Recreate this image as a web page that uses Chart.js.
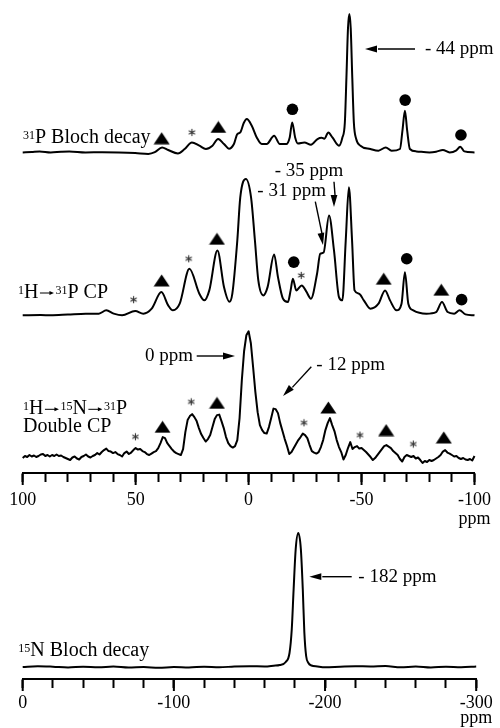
<!DOCTYPE html>
<html>
<head>
<meta charset="utf-8">
<script src="https://cdn.jsdelivr.net/npm/chart.js@4.4.1/dist/chart.umd.min.js"></script>
<style>
  html, body { margin: 0; padding: 0; background: #fff; }
  #wrap { position: relative; width: 500px; height: 728px; overflow: hidden; }
  #grafTop { position: absolute; left: 0; top: 0; }
  #grafBottom { position: absolute; left: 0; top: 528px; }
</style>
</head>
<body>
<div id="wrap">
  <canvas id="grafTop" width="500" height="528"></canvas>
  <canvas id="grafBottom" width="500" height="200"></canvas>
</div>
<script>
// ---- 31P Bloch decay (ppm / intensity, a.u.) ----
const blochPpm = [100, 96, 92.5, 87.6, 83, 79.4, 72.2, 64.8, 57.5, 50.2,
  44.4, 41.5, 38.3, 35.6, 31.3, 28.3, 25.1, 21.8, 18.9, 16,
  13.5, 10.9, 8.7, 6.5, 5, 3.7, 2.1, 0.8, -1.4, -3.6,
  -5.8, -8, -11.3, -13.8, -16.7, -18.2, -19.3, -20.6, -21.8, -24.7,
  -27.6, -30.5, -32.3, -33.5, -35.3, -37.1, -40, -41.5, -42.6, -43.3,
  -44, -44.6, -45.2, -45.9, -46.6, -47.6, -49.5, -53.9, -57.5, -60.7,
  -63.3, -67, -68.1, -69.2, -70.2, -71.4, -74.3, -80.1, -83, -86,
  -89, -91.8, -93.7, -95.5, -100];
const blochInt = [0.3, 0.8, 1.3, 0.3, 1, 1.3, 0.3, 0.5, 0.3, -0.3,
  -1.2, 0.5, 5.3, 2.7, -0.7, 3.7, 10.3, 7, 3.7, 7,
  13.7, 8.7, 4, 8.7, 18.7, 20.3, 30, 33.7, 27, 15.3,
  8.7, 8.7, 17, 8.7, 8.7, 15.3, 30.3, 15.3, 9.3, 10.3,
  8, 13.7, 15, 14, 20.3, 15.3, 7, 15, 30, 75,
  125, 139, 125, 75, 30, 14, 7, 3.7, 2, 5.3,
  2, 3.7, 22, 42, 22, 3.7, 1.3, 0.3, 1, 2.7,
  0.3, 2, 6, 1.3, 0.3];

// ---- 1H -> 31P CP ----
const cpPpm = [100, 92, 87.6, 80, 72.1, 66.3, 63, 59.7, 56, 50.2,
  46.6, 42.9, 38.6, 35.6, 33.5, 30.5, 26.2, 21.8, 19.6, 17.4,
  13.8, 10.9, 8.5, 7.2, 5, 3.7, 1.2, -1.1, -2.8, -4.3,
  -6.5, -8.4, -11.3, -13, -15.2, -17.4, -18.6, -19.6, -21.1, -23.5,
  -25.5, -27.6, -30.3, -31.7, -33.2, -35.6, -37.8, -40, -41.5, -43,
  -44.4, -45.8, -46.9, -48.9, -51, -53.9, -57.5, -60.4, -62.6, -65.5,
  -67.7, -69.2, -70.7, -72.9, -78.7, -83, -85.6, -88.1, -91, -93.4,
  -96, -100];
const cpInt = [0, 0.3, 0, 0.8, 1.7, 1.7, 5, 1.7, 0, 4.3,
  1.7, 6.7, 23.3, 10, 5, 11.7, 46.7, 21.7, 15, 25,
  65, 28.3, 13.5, 21.7, 75, 118, 136.7, 118, 75, 35,
  20, 28.3, 61, 38.3, 16.7, 13.3, 25, 36.7, 25, 30,
  24, 16.7, 41.7, 61.7, 63, 100, 65, 18.3, 15, 75,
  128.3, 75, 25, 21.7, 15, 6.7, 11.7, 25, 15, 5,
  11.7, 43.3, 11.7, 5, 1.7, 3.3, 13.3, 3.3, 1.7, 5,
  1, 0];

// ---- 1H -> 15N -> 31P double CP, sampled every 1 ppm from 100 to -100 ----
const dcpStart = 100;
const dcpStep = -1;
const dcpInt = [
  0, 2, 1, 3, 1.5, 2.5, 1, 2, 3.5, 4,
  2, 3, 1.5, 3, 2, 3.5, 2, 2.5, 1, 0,
  -1, -2, 0.5, 1.5, -0.5, -1.5, 1, 2, 3.5, 1.5,
  0.5, 2, 3, 5, 3.5, 6, 8, 9.5, 7, 6.5,
  5, 6, 4, 3, 1.5, 5, 6.5, 4, 5.5, 8,
  10, 8.5, 9, 7, 6, 4, 3, 4.5, 6, 7,
  10, 15, 21, 20, 15, 12, 9, 6.5, 5, 4,
  3, 9, 26, 38, 42, 44, 41, 37, 30, 24,
  20, 16.5, 19, 23, 31, 39, 43, 43.5, 37, 30,
  21, 15, 12, 10.5, 12, 18, 40, 78, 107, 123,
  127, 115, 91, 66, 46, 33, 28, 25, 24.5, 31,
  40, 49.5, 49, 45, 35, 27, 19, 12, 4, 6,
  10, 14, 18, 21, 24.5, 23, 20, 13, 7, 5.5,
  4.5, 6, 11, 18, 28, 35, 40, 33, 27, 18,
  11, 6, -1.5, 3, 10, 16, 9, 11, 12, 9.5,
  10, 8, 6, 3.5, 1, -2, 0, 3, 6, 9,
  12, 13, 11.5, 10, 7, 5, 3, -1, -3.5, 1,
  3, 2, 1, 2, -0.5, 0.5, -2, -5, -3, -4,
  -2, -3, -2, -0.5, 1, 3, 6.5, 8, 5.5, 4.5,
  3, 1.5, 2, 0, -1, 0, -1.5, -2, -1, -2.5,
  2];

// ---- 15N Bloch decay ----
const nPpm = [0, -10, -20, -30, -40, -50, -60, -70, -80, -90, -100, -110, -120, -130, -140, -150, -160,
  -166, -170, -174, -176.5, -178, -179.2, -180.6, -182.3, -184, -185.3, -186.3, -187.5, -189, -191, -195,
  -200, -210, -220, -230, -240, -250, -260, -270, -280, -290, -300];
const nInt = [0, 0.8, 0.3, -0.5, 0.3, -0.3, 0.5, -0.5, 0, -0.8, 0, -0.5, 0.3, -0.3, 0.5, 0.8, 0.5,
  1.3, 2, 5, 14, 38, 77, 118, 134, 118, 77, 35, 11, 4, 1.5, 0.5,
  -0.3, 0.3, 0.8, 0.5, 1, -0.3, 0.5, -0.5, 0.3, -0.3, 0.5];

// ---- peak markers (triangle / asterisk / dot) ----
const blochTriPpm = [38.5, 13.4], blochTriInt = [14.5, 25.8];
const blochStarPpm = [25.1], blochStarInt = [20.3];
const blochDotPpm = [-19.4, -69.3, -94.0], blochDotInt = [43.5, 52.7, 17.7];
const cpTriPpm = [38.5, 14.0, -59.8, -85.3], cpTriInt = [35, 76.7, 36.7, 25.7];
const cpStarPpm = [50.9, 26.5, -23.3], cpStarInt = [15.7, 56.7, 40];
const cpDotPpm = [-20.0, -70.0, -94.3], cpDotInt = [53.3, 56.7, 15.7];
const dcpTriPpm = [38.1, 14.0, -35.3, -60.9, -86.4], dcpTriInt = [31.3, 55.3, 50.7, 28, 20.7];
const dcpStarPpm = [50.1, 25.4, -24.5, -49.3, -72.9], dcpStarInt = [21.3, 56.3, 35.3, 23, 14];

// axis ticks
const topMajor = [100, 50, 0, -50, -100];
const bottomMajor = [0, -100, -200, -300];

const FONT = '"Liberation Serif", "Times New Roman", serif';

function pts(xs, ys) { return xs.map((x, i) => ({ x: x, y: ys[i] })); }

// small images used as point styles
const triImg = document.createElement('canvas');
triImg.width = 17; triImg.height = 13;
(function () {
  const g = triImg.getContext('2d');
  g.fillStyle = '#000';
  g.beginPath(); g.moveTo(8.5, 0.5); g.lineTo(16.5, 12.5); g.lineTo(0.5, 12.5); g.closePath(); g.fill();
})();
const starImg = document.createElement('canvas');
starImg.width = 9; starImg.height = 9;
(function () {
  const g = starImg.getContext('2d');
  g.strokeStyle = '#333'; g.lineWidth = 1.1;
  for (let k = 0; k < 3; k++) {
    const a = Math.PI / 2 + k * Math.PI / 3;
    g.beginPath();
    g.moveTo(4.5 + 3.6 * Math.cos(a), 4.5 + 3.6 * Math.sin(a));
    g.lineTo(4.5 - 3.6 * Math.cos(a), 4.5 - 3.6 * Math.sin(a));
    g.stroke();
  }
})();

function spectrum(xs, ys, axis, smooth) {
  return {
    type: 'line', data: pts(xs, ys), yAxisID: axis,
    borderColor: '#000', borderWidth: 2, borderJoinStyle: 'round',
    pointRadius: 0, clip: false,
    cubicInterpolationMode: smooth ? 'monotone' : 'default', tension: 0
  };
}
function marks(xs, ys, axis, kind) {
  const d = { type: 'scatter', data: pts(xs, ys), yAxisID: axis, showLine: false, clip: false,
    pointBorderWidth: 0, pointBackgroundColor: '#000', pointRadius: 6 };
  if (kind === 'tri') d.pointStyle = triImg;
  else if (kind === 'star') d.pointStyle = starImg;
  else { d.pointStyle = 'circle'; d.pointRadius = 5.8; }
  return d;
}

// draws text with superscripts and small inline arrows
function drawRich(ctx, x, y, parts, size) {
  parts.forEach(p => {
    if (p.arrow) {
      const ay = y - 5, x1 = x + 1.5, x2 = x + p.arrow - 1.5;
      ctx.lineWidth = 1;
      ctx.beginPath(); ctx.moveTo(x1, ay); ctx.lineTo(x2 - 3, ay); ctx.stroke();
      ctx.beginPath(); ctx.moveTo(x2, ay); ctx.lineTo(x2 - 4.5, ay - 2); ctx.lineTo(x2 - 4.5, ay + 2); ctx.closePath(); ctx.fill();
      x += p.arrow;
      return;
    }
    ctx.font = (p.sup ? '12px ' : size + 'px ') + FONT;
    ctx.fillText(p.t, x, p.sup ? y - 4 : y);
    x += ctx.measureText(p.t).width;
  });
}
function drawArrow(ctx, x1, y1, x2, y2) {
  const a = Math.atan2(y2 - y1, x2 - x1), L = 12, W = 3.4;
  const bx = x2 - L * Math.cos(a), by = y2 - L * Math.sin(a);
  ctx.lineWidth = 1.4;
  ctx.beginPath(); ctx.moveTo(x1, y1); ctx.lineTo(bx + 1, by); ctx.stroke();
  ctx.beginPath(); ctx.moveTo(x2, y2);
  ctx.lineTo(bx + W * Math.sin(a), by - W * Math.cos(a));
  ctx.lineTo(bx - W * Math.sin(a), by + W * Math.cos(a));
  ctx.closePath(); ctx.fill();
}

const notesPlugin = {
  id: 'notes',
  afterDraw(chart, args, opts) {
    const ctx = chart.ctx;
    ctx.save();
    ctx.fillStyle = '#000'; ctx.strokeStyle = '#000';
    ctx.textBaseline = 'alphabetic'; ctx.textAlign = 'left';
    (opts.texts || []).forEach(t => drawRich(ctx, t.x, t.y, t.parts, t.size || 19));
    (opts.arrows || []).forEach(a => drawArrow(ctx, a[0], a[1], a[2], a[3]));
    ctx.restore();
  }
};
const majorTicksPlugin = {
  id: 'majorTicks',
  afterDraw(chart, args, opts) {
    const sc = chart.scales.x, ctx = chart.ctx, y0 = chart.chartArea.bottom;
    ctx.save();
    ctx.strokeStyle = '#000'; ctx.lineWidth = 2;
    opts.values.forEach(v => {
      const x = sc.getPixelForValue(v);
      ctx.beginPath(); ctx.moveTo(x, y0); ctx.lineTo(x, y0 + 12); ctx.stroke();
    });
    ctx.restore();
  }
};

function xAxis(min, max, step, major, last, h, pad, lh) {
  return {
    type: 'linear', reverse: true, min: min, max: max,
    afterFit: s => { s.height = h; },
    border: { display: true, color: '#000', width: 2 },
    grid: { display: true, drawOnChartArea: false, drawTicks: true, tickLength: 9, tickWidth: 2, tickColor: '#000' },
    ticks: {
      stepSize: step, autoSkip: false, maxRotation: 0, padding: pad, color: '#000',
      font: { family: FONT, size: 18, lineHeight: lh },
      callback: v => v % major === 0 ? (v === last ? [String(v), 'ppm'] : String(v)) : ''
    }
  };
}

window.addEventListener('load', () => {

  new Chart(document.querySelector('#grafTop').getContext('2d'), {
    type: 'line',
    data: {
      datasets: [
        spectrum(blochPpm, blochInt, 'yB', true),
        spectrum(cpPpm, cpInt, 'yC', true),
        spectrum(dcpInt.map((v, i) => dcpStart + i * dcpStep), dcpInt, 'yD', false),
        marks(blochTriPpm, blochTriInt, 'yB', 'tri'),
        marks(blochStarPpm, blochStarInt, 'yB', 'star'),
        marks(blochDotPpm, blochDotInt, 'yB', 'dot'),
        marks(cpTriPpm, cpTriInt, 'yC', 'tri'),
        marks(cpStarPpm, cpStarInt, 'yC', 'star'),
        marks(cpDotPpm, cpDotInt, 'yC', 'dot'),
        marks(dcpTriPpm, dcpTriInt, 'yD', 'tri'),
        marks(dcpStarPpm, dcpStarInt, 'yD', 'star')
      ]
    },
    options: {
      responsive: false, animation: false, events: [],
      layout: { padding: { left: 22.7, right: 20, top: 5, bottom: 0 } },
      plugins: {
        legend: { display: false }, tooltip: { enabled: false },
        majorTicks: { values: topMajor },
        notes: {
          texts: [
            { x: 425, y: 54, parts: [{ t: '- 44 ppm' }] },
            { x: 274.7, y: 176, parts: [{ t: '- 35 ppm' }] },
            { x: 257.3, y: 196, parts: [{ t: '- 31 ppm' }] },
            { x: 145, y: 360.7, parts: [{ t: '0 ppm' }] },
            { x: 316.3, y: 370, parts: [{ t: '- 12 ppm' }] },
            { x: 23, y: 143, size: 20, parts: [{ t: '31', sup: true }, { t: 'P Bloch decay' }] },
            { x: 18, y: 298, size: 20, parts: [{ t: '1', sup: true }, { t: 'H' }, { arrow: 17 }, { t: '31', sup: true }, { t: 'P CP' }] },
            { x: 23, y: 414.3, size: 20, parts: [{ t: '1', sup: true }, { t: 'H' }, { arrow: 17 }, { t: '15', sup: true }, { t: 'N' }, { arrow: 17 }, { t: '31', sup: true }, { t: 'P' }] },
            { x: 23, y: 431.7, size: 20, parts: [{ t: 'Double CP' }] }
          ],
          arrows: [
            [415, 49, 365, 49],
            [334, 181.7, 334, 207],
            [315.3, 201.7, 323, 245],
            [196.7, 356, 235, 356],
            [311.3, 366.7, 283, 396]
          ]
        }
      },
      scales: {
        x: xAxis(-100, 100, 10, 50, -100, 55, 9, 1.05),
        yB: { display: false, min: -321, max: 147 },
        yC: { display: false, min: -158, max: 310 },
        yD: { display: false, min: -15, max: 453 }
      }
    },
    plugins: [notesPlugin, majorTicksPlugin]
  });

  new Chart(document.querySelector('#grafBottom').getContext('2d'), {
    type: 'line',
    data: { datasets: [spectrum(nPpm, nInt, 'yN', true)] },
    options: {
      responsive: false, animation: false, events: [],
      layout: { padding: { left: 22.7, right: 20, top: 0, bottom: 0 } },
      plugins: {
        legend: { display: false }, tooltip: { enabled: false },
        majorTicks: { values: bottomMajor },
        notes: {
          texts: [
            { x: 358.3, y: 53.7, parts: [{ t: '- 182 ppm' }] },
            { x: 18.3, y: 128, size: 20, parts: [{ t: '15', sup: true }, { t: 'N Bloch decay' }] }
          ],
          arrows: [[351.7, 48.7, 309.3, 48.7]]
        }
      },
      scales: {
        x: xAxis(-300, 0, 20, 100, -300, 49, 7.3, 0.85),
        yN: { display: false, min: -12, max: 139 }
      }
    },
    plugins: [notesPlugin, majorTicksPlugin]
  });

});
</script>
</body>
</html>
